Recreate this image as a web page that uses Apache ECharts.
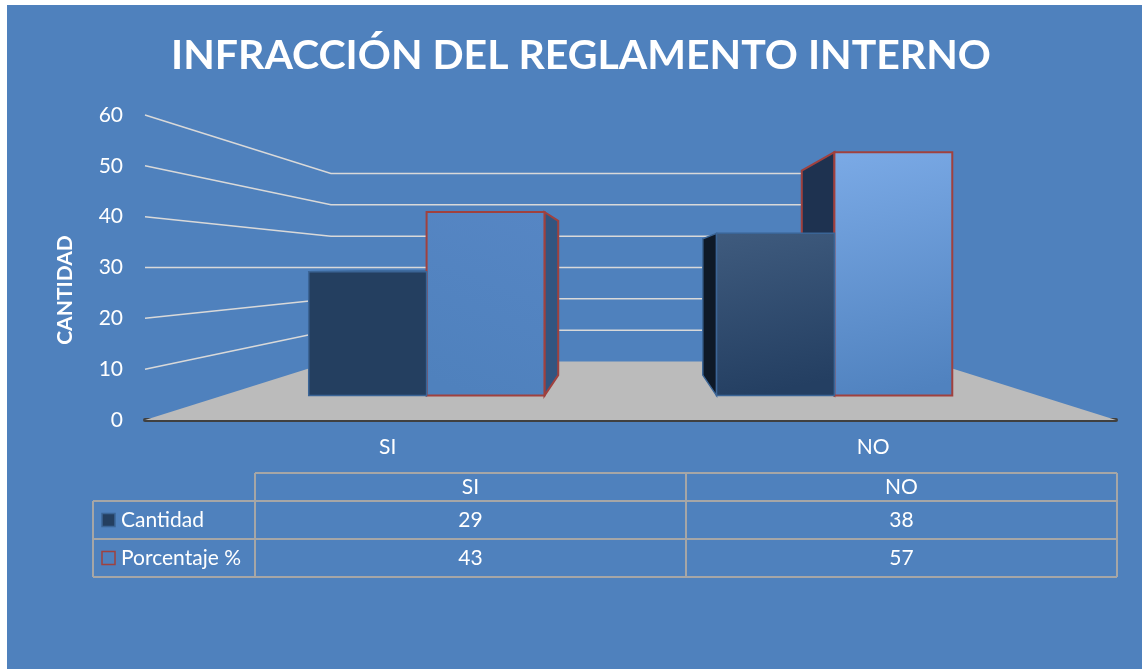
<!DOCTYPE html>
<html>
<head>
<meta charset="utf-8">
<script src="https://cdn.jsdelivr.net/npm/echarts@6/dist/echarts.min.js"></script>
<style>
	html, body { margin: 0; padding: 0; background: #fff; }
	#main { width: 1142px; height: 669px; }
</style>
</head>
<body>
<div id="main"></div>
<script>
// Data
var categories = ['SI', 'NO']
var cantidad = [29, 38]
var porcentaje = [43, 57]
var yTicks = [10, 20, 30, 40, 50, 60]
var seriesNames = ['Cantidad', 'Porcentaje %']

var FONT = 'Lato'
var BAR_PLANE = 0.84 // depth of the bar front faces (scale toward vanishing point)
var BAR_DEPTH = 0.84 // back faces of bars, relative to front faces
var WALL_PLANE = 0.617 // back wall
var BAR_W = 0.289 // bar width as part of the category band

function toward(p, v, s) {
	return [v[0] + (p[0] - v[0]) * s, v[1] + (p[1] - v[1]) * s]
}

function vanish(params) {
	var cs = params.coordSys
	return [cs.x + cs.width / 2, cs.y + cs.height / 2]
}

// Floor of the 3D box
renderFloor = (params, api) => {
	var cs = params.coordSys
	var V = vanish(params)
	var y0 = api.coord([0, 0])[1]
	var fl = [cs.x, y0]
	var fr = [cs.x + cs.width, y0]
	return {
		type: 'polygon',
		shape: { points: [fl, fr, toward(fr, V, WALL_PLANE), toward(fl, V, WALL_PLANE)] },
		style: { fill: '#BBBBBB' },
	}
}

// Gridlines on side wall + back wall
renderWall = (params, api) => {
	var cs = params.coordSys
	var V = vanish(params)
	var y = api.coord([0, api.value(1)])[1]
	var a = [cs.x, y]
	return {
		type: 'polyline',
		shape: { points: [a, toward(a, V, WALL_PLANE), toward([cs.x + cs.width, y], V, WALL_PLANE)] },
		style: { stroke: '#D9D9D9', lineWidth: 1.5, fill: null },
	}
}

function face(points, fill, look, z2) {
	return {
		type: 'polygon',
		z2: z2,
		shape: { points: points },
		style: { fill: fill, stroke: look.stroke, lineWidth: look.lineWidth, lineJoin: 'miter' },
	}
}

makeBar = (side, look) => {
	return (params, api) => {
		var V = vanish(params)
		var i = params.dataIndex
		var base = api.coord([api.value(0), 0])
		var top = api.coord([api.value(0), api.value(1)])
		var w = api.size([1, 0])[0] * BAR_W
		var x0 = side < 0 ? base[0] - w : base[0]
		var x1 = x0 + w
		var corners = [[x0, top[1]], [x1, top[1]], [x1, base[1]], [x0, base[1]]]
		var f = corners.map((p) => toward(p, V, BAR_PLANE))
		var b = corners.map((p) => toward(p, V, BAR_PLANE * BAR_DEPTH))
		var kids = []
		if (f[0][0] > V[0]) kids.push(face([f[0], b[0], b[3], f[3]], look.left, look, 1))
		if (f[1][0] < V[0]) kids.push(face([f[1], b[1], b[2], f[2]], look.right, look, 1))
		if (f[0][1] > V[1]) kids.push(face([f[0], f[1], b[1], b[0]], look.top, look, 1))
		kids.push(face(f, look.front[i], look, 10))
		return { type: 'group', children: kids }
	}
}

var lookCantidad = {
	front: [
		'#243F60',
		new echarts.graphic.LinearGradient(0, 0, 0.3, 1, [
			{ offset: 0, color: '#3F5B7E' },
			{ offset: 1, color: '#243F62' },
		]),
	],
	left: '#0E1927',
	right: '#1B3050',
	top: '#2E4A70',
	stroke: '#3B6596',
	lineWidth: 1.5,
}

var lookPorcentaje = {
	front: [
		new echarts.graphic.LinearGradient(1, 0, 0.4, 1, [
			{ offset: 0, color: '#5686C4' },
			{ offset: 1, color: '#4F81BD' },
		]),
		new echarts.graphic.LinearGradient(0, 0, 0.5, 1, [
			{ offset: 0, color: '#7BAAE6' },
			{ offset: 1, color: '#5082BF' },
		]),
	],
	left: '#1E3250',
	right: '#325580',
	top: '#6B9BD6',
	stroke: '#A0413E',
	lineWidth: 2,
}

// Data table under the chart
function tableGraphic() {
	var T = { left: 93, label: 255, right: 1117, rows: [473, 501, 539, 577] }
	var colW = (T.right - T.label) / categories.length
	var els = []
	var line = (x1, y1, x2, y2) => ({
		type: 'line',
		silent: true,
		shape: { x1: x1, y1: y1, x2: x2, y2: y2 },
		style: { stroke: '#A6A6A6', lineWidth: 2 },
	})
	var text = (t, x, y, align) => ({
		type: 'text',
		x: x,
		y: y,
		style: { text: t, fill: '#fff', font: '21px ' + FONT, textAlign: align, textVerticalAlign: 'middle' },
	})

	els.push(line(T.label, T.rows[0], T.right, T.rows[0]))
	for (var r = 1; r < T.rows.length; r++) els.push(line(T.left, T.rows[r], T.right, T.rows[r]))
	els.push(line(T.left, T.rows[1], T.left, T.rows[3]))
	for (var c = 0; c <= categories.length; c++) {
		var x = T.label + c * colW
		els.push(line(x, T.rows[0], x, T.rows[3]))
	}

	categories.forEach((cat, c) => {
		els.push(text(cat, T.label + (c + 0.5) * colW, (T.rows[0] + T.rows[1]) / 2, 'center'))
	})

	var markers = [
		{ fill: '#243F60', stroke: '#3B6596' },
		{ fill: '#4F81BD', stroke: '#A0413E' },
	]
	;[cantidad, porcentaje].forEach((vals, s) => {
		var cy = (T.rows[s + 1] + T.rows[s + 2]) / 2
		els.push({
			type: 'rect',
			shape: { x: 102, y: cy - 6.5, width: 13, height: 13 },
			style: { fill: markers[s].fill, stroke: markers[s].stroke, lineWidth: 1.5 },
		})
		els.push(text(seriesNames[s], 121, cy, 'left'))
		vals.forEach((v, c) => {
			els.push(text(String(v), T.label + (c + 0.5) * colW, cy, 'center'))
		})
	})
	return els
}

var chart = echarts.init(document.getElementById('main'))

var option = {
	backgroundColor: '#4F81BD',
	animation: false,
	textStyle: { fontFamily: FONT },
	grid: { left: 145, right: 26, top: 115, bottom: 249 },
	xAxis: {
		type: 'category',
		data: categories,
		axisLine: { lineStyle: { color: '#404040', width: 4, cap: 'round' } },
		axisTick: { show: false },
		axisLabel: { color: '#fff', fontSize: 21, margin: 17, fontFamily: FONT },
	},
	yAxis: {
		type: 'value',
		min: 0,
		max: 60,
		interval: 10,
		axisLine: { show: false },
		axisTick: { show: false },
		splitLine: { show: false },
		axisLabel: { color: '#fff', fontSize: 21, margin: 22, fontFamily: FONT },
	},
	graphic: [
		{ type: 'rect', z: 100, shape: { x: 0, y: 0, width: 1142, height: 5 }, style: { fill: '#fff' } },
		{ type: 'rect', z: 100, shape: { x: 0, y: 0, width: 7, height: 669 }, style: { fill: '#fff' } },
		{
			type: 'text',
			x: 581,
			y: 56,
			style: {
				text: 'INFRACCIÓN DEL REGLAMENTO INTERNO',
				fill: '#fff',
				font: 'bold 41px ' + FONT,
				textAlign: 'center',
				textVerticalAlign: 'middle',
			},
		},
		{
			type: 'text',
			x: 65,
			y: 290,
			rotation: Math.PI / 2,
			style: {
				text: 'CANTIDAD',
				fill: '#fff',
				font: 'bold 21px ' + FONT,
				textAlign: 'center',
				textVerticalAlign: 'middle',
			},
		},
	].concat(tableGraphic()),
	series: [
		{ type: 'custom', name: 'piso', silent: true, z: 1, renderItem: renderFloor, data: [[0, 0]] },
		{ type: 'custom', name: 'rejilla', silent: true, z: 1, renderItem: renderWall, data: yTicks.map((v) => [0, v]) },
		{
			type: 'custom',
			name: seriesNames[1],
			z: 3,
			renderItem: makeBar(1, lookPorcentaje),
			data: porcentaje.map((v, i) => [i, v]),
		},
		{
			type: 'custom',
			name: seriesNames[0],
			z: 3,
			renderItem: makeBar(-1, lookCantidad),
			data: cantidad.map((v, i) => [i, v]),
		},
	],
}

chart.setOption(option)
</script>
</body>
</html>
